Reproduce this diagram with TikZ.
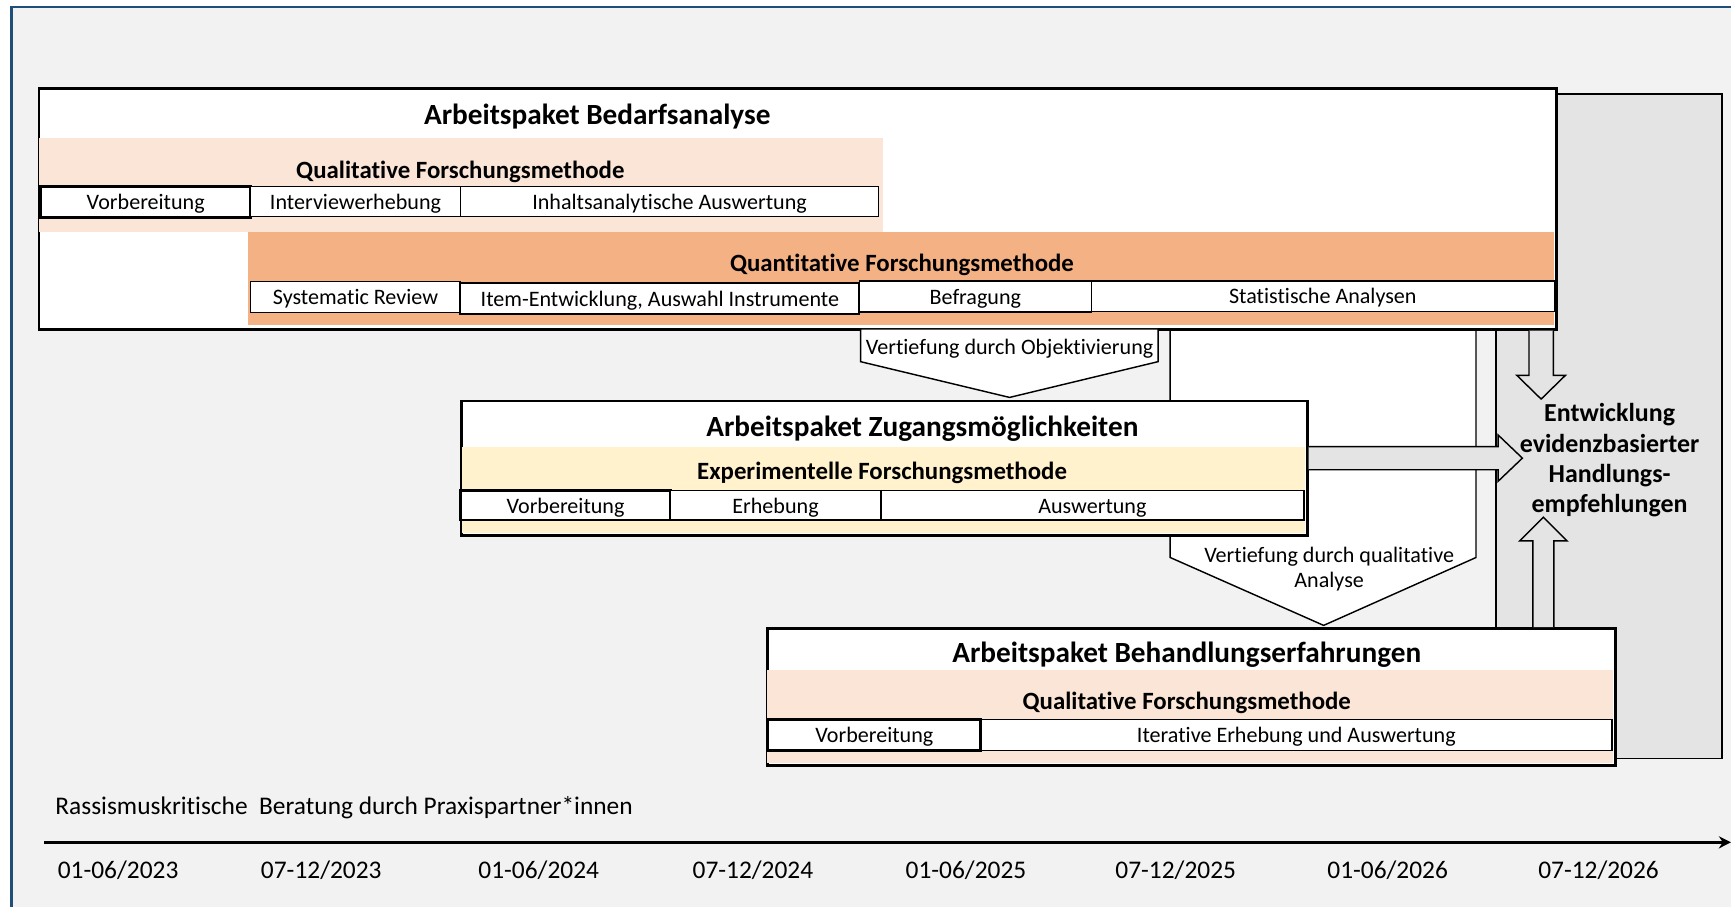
\documentclass[tikz,border=0pt]{standalone}
\usepackage{fontspec}
\setmainfont{Carlito}[Ligatures=NoCommon]
\usetikzlibrary{arrows.meta, calc}
\definecolor{bggray}{HTML}{F2F2F2}
\definecolor{panelgray}{HTML}{E4E4E4}
\definecolor{frameblue}{HTML}{1F4E79}
\definecolor{peach}{HTML}{FBE5D6}
\definecolor{apricot}{HTML}{F4B183}
\definecolor{cream}{HTML}{FFF2CC}

\begin{document}
\begin{tikzpicture}[x=1pt,y=-1pt,
  wpbox/.style={draw, fill=white, line width=2.4pt, inner sep=0pt, anchor=north west},
  cell/.style={draw, fill=white, line width=1.3pt, inner sep=0pt, outer sep=0pt, anchor=north west, text height=16pt, text depth=2pt, font=\fontsize{20}{24}\selectfont},
  firstcell/.style={cell, line width=2.6pt},
  wptitle/.style={yshift=-2pt, font=\bfseries\fontsize{26.5}{30}\selectfont},
  methtitle/.style={yshift=-2pt, font=\bfseries\fontsize{22.5}{26}\selectfont},
  callout/.style={draw, fill=white, line width=1.3pt, line join=miter},
  blockarrow/.style={draw, fill=panelgray, line width=1.3pt, line join=miter},
  plain/.style={yshift=-2pt, font=\fontsize{20}{24}\selectfont}]
\useasboundingbox (0,0) rectangle (1568,821);
\clip (0,0) rectangle (1568,821);
\fill[white] (0,0) rectangle (1568,821);
\draw[frameblue, line width=2.2pt, fill=bggray] (10.5,6.5) rectangle (1640,880);

\draw[line width=1.5pt, fill=panelgray] (1355,85) rectangle (1560,687);

\draw[callout] (1060,298) -- (1337,298) -- (1337,505) -- (1199,566.5) -- (1060,505) -- cycle;
\node[plain, align=center] (qualtext) at (1204,513.5) {Vertiefung durch qualitative\\[-0.5pt]Analyse};

\node[wpbox, minimum width=1375pt, minimum height=218pt] (bed) at (34,79) {};
\fill[peach] (35.3,125) rectangle (800,210);
\fill[apricot] (225,210) rectangle (1408,294.5);
\node[wptitle] (bedT) at (541,104) {Arbeitspaket Bedarfsanalyse};
\node[methtitle] (bedQl) at (417,154) {Qualitative Forschungsmethode};
\node[methtitle] (bedQn) at (817,237.5) {Quantitative Forschungsmethode};
\node[firstcell, minimum width=190pt, minimum height=28pt] (qlA) at (37,169) {Vorbereitung};
\node[cell, minimum width=190pt, minimum height=27pt] (qlB) at (227,169) {Interviewerhebung};
\node[cell, minimum width=379pt, minimum height=27pt] (qlC) at (417,169) {Inhaltsanalytische Auswertung};
\node[cell, minimum width=190pt, minimum height=28pt] (qnA) at (227,255) {Systematic Review};
\node[cell, minimum width=361.5pt, minimum height=28pt, line width=1.8pt] (qnB) at (417,256.5) {Item-Entwicklung, Auswahl Instrumente};
\node[cell, minimum width=210pt, minimum height=28pt] (qnC) at (778.5,254.5) {Befragung};
\node[cell, minimum width=419.5pt, minimum height=27.5pt] (qnD) at (988.5,254.5) {Statistische Analysen};

\draw[callout] (779.5,298) -- (1049,298) -- (1049,327.6) -- (914.5,360) -- (779.5,327.6) -- cycle;
\node[plain] (objtext) at (914.5,313.5) {Vertiefung durch Objektivierung};

\node[wpbox, minimum width=766pt, minimum height=122pt] (zug) at (417,362) {};
\fill[cream] (418.2,405) rectangle (1181.8,482.8);
\node[wptitle] (zugT) at (835.5,386) {Arbeitspaket Zugangsmöglichkeiten};
\node[methtitle] (zugM) at (799,426) {Experimentelle Forschungsmethode};
\node[firstcell, minimum width=189.5pt, minimum height=26.5pt] (exA) at (417.5,444.5) {Vorbereitung};
\node[cell, minimum width=191pt, minimum height=26.5pt] (exB) at (607,444.5) {Erhebung};
\node[cell, minimum width=383pt, minimum height=26.5pt] (exC) at (798,444.5) {Auswertung};

\node[wpbox, minimum width=768pt, minimum height=124pt] (beh) at (694,568) {};
\fill[peach] (695.2,607) rectangle (1460.8,690.8);
\node[wptitle] (behT) at (1075,591) {Arbeitspaket Behandlungserfahrungen};
\node[methtitle] (behM) at (1075,634.5) {Qualitative Forschungsmethode};
\node[firstcell, minimum width=193pt, minimum height=28.5pt] (bqA) at (695.5,651.5) {Vorbereitung};
\node[cell, minimum width=571.5pt, minimum height=28.5pt] (bqB) at (888.5,651.5) {Iterative Erhebung und Auswertung};

\node[align=center, yshift=-2pt, font=\bfseries\fontsize{23.5}{27.6}\selectfont] (ent) at (1458,415) {Entwicklung\\evidenzbasierter\\Handlungs-\\empfehlungen};

\coordinate (tipR) at (1379,415);
\coordinate (tipD) at (1396,361.5);
\coordinate (tipU) at (1398,468.5);
\draw[blockarrow] ($(zug.east|-tipR)+(0,-10.5)$) -- ($(tipR)+(-22,-10.5)$) -- ($(tipR)+(-22,-21)$) -- (tipR)
  -- ($(tipR)+(-22,21)$) -- ($(tipR)+(-22,10.5)$) -- ($(zug.east|-tipR)+(0,10.5)$);
\draw[blockarrow] ($(tipD|-bed.south)+(-11,0)$) -- ($(tipD)+(-11,-21.5)$) -- ($(tipD)+(-22,-21.5)$) -- (tipD)
  -- ($(tipD)+(22,-21.5)$) -- ($(tipD)+(11,-21.5)$) -- ($(tipD|-bed.south)+(11,0)$);
\draw[blockarrow] ($(tipU|-beh.north)+(-9.5,0)$) -- ($(tipU)+(-9.5,21.5)$) -- ($(tipU)+(-21.5,21.5)$) -- (tipU)
  -- ($(tipU)+(21.5,21.5)$) -- ($(tipU)+(9.5,21.5)$) -- ($(tipU|-beh.north)+(9.5,0)$);

\node[anchor=west, inner sep=0pt, yshift=-2pt, font=\fontsize{23}{27}\selectfont] (rass) at (50,730) {Rassismuskritische \ Beratung durch Praxispartner*innen};
\coordinate (tlstart) at (40,763);
\coordinate (tlend) at (1568,763);
\draw[line width=2.8pt, -{Stealth[length=11pt,width=11pt]}] (tlstart) -- (tlend);
\foreach \x/\m/\y [count=\i] in {107/01-06/2023, 291/07-12/2023, 488/01-06/2024, 682/07-12/2024, 875/01-06/2025, 1065/07-12/2025, 1257/01-06/2026, 1448/07-12/2026}
  \node[yshift=-1.5pt, font=\fontsize{23}{27}\selectfont] (date\i) at (\x,787) {\m/\y};
\end{tikzpicture}
\end{document}
